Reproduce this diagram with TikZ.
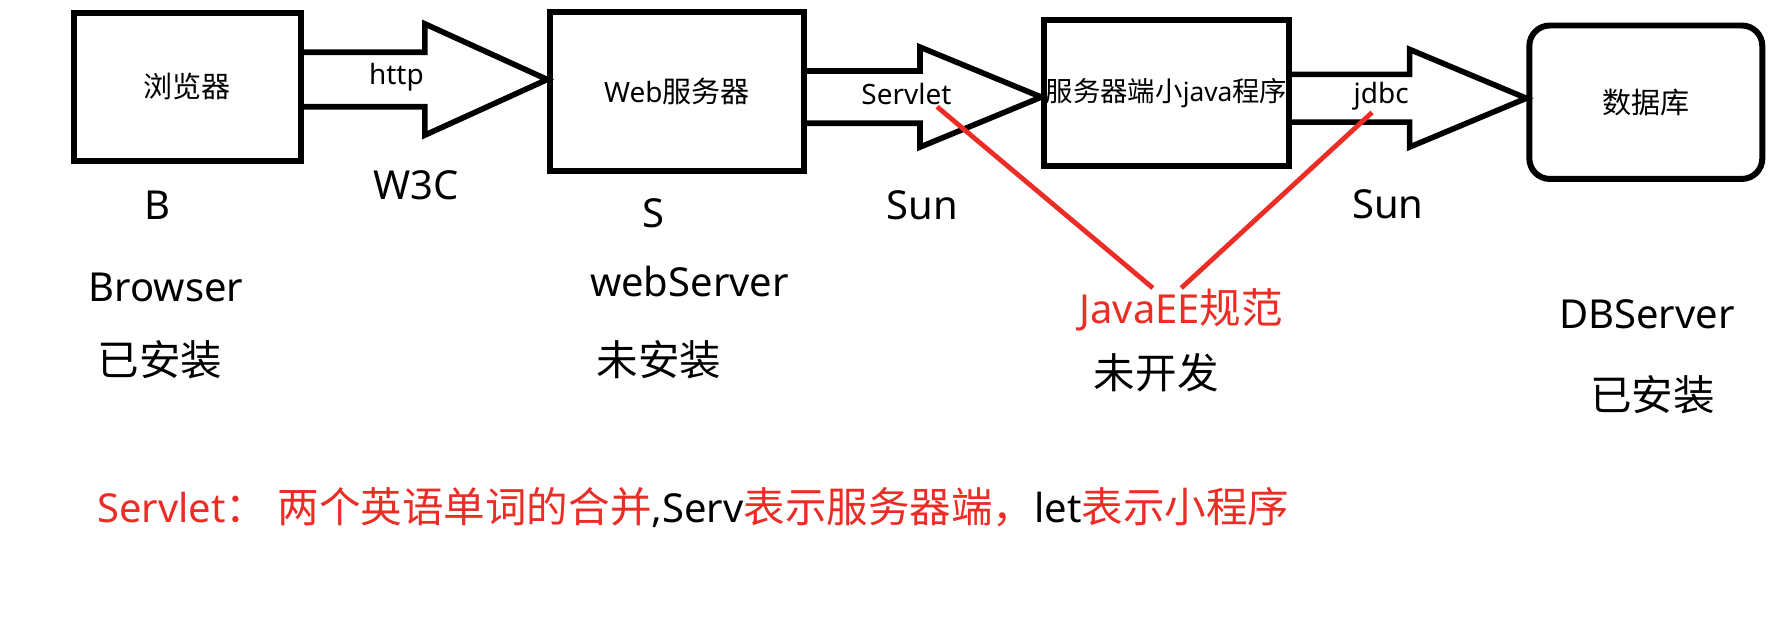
\documentclass[tikz,border=0pt]{standalone}
\usepackage{fontspec}
\setmainfont{Noto Sans}
\newfontfamily\cjkfont{Noto Sans CJK SC}[Scale=1.04]
\newcommand{\zh}[1]{{\cjkfont #1}}
\usetikzlibrary{calc}
\definecolor{jred}{RGB}{235,45,38}

\begin{document}
\begin{tikzpicture}[x=0.01cm, y=-0.01cm]
	\tikzstyle{Box}   = [draw, line width=1.5pt, minimum width=2cm, minimum height=1.3cm, inner sep=0pt, font=\fontsize{7}{8}\selectfont]
	\tikzstyle{Pipe}  = [line width=1.4pt, line join=miter]
	\tikzstyle{Tag}   = [inner sep=0pt, font=\fontsize{7}{8}\selectfont]
	\tikzstyle{Label} = [inner sep=0pt, font=\fontsize{10}{12}\selectfont]
	\tikzstyle{Spec}  = [jred, line width=1.2pt]

	\fill[white] (0,0) rectangle (1568,561);
	\useasboundingbox (0,0) rectangle (1568,561);

	% the four tiers
	\node (browser) at (165,76.5) [Box] {\zh{浏览器}};
	\node (websrv) at (596,80.5) [Box, minimum width=2.23cm, minimum height=1.4cm] {Web\zh{服务器}};
	\node (prog) at (1027,82) [Box, minimum width=2.15cm, minimum height=1.28cm, font=\fontsize{6.6}{8}\selectfont] {\zh{服务器端小}java\zh{程序}};
	\node (db) at (1449,90) [Box, rounded corners=0.18cm, minimum width=2.05cm, minimum height=1.35cm] {\zh{数据库}};

	% block arrows between the tiers
	\foreach \from/\to/\yc/\xb/\sh/\hh in {browser/websrv/70/374/24/49, websrv/prog/85.5/810/23/44, prog/db/86.5/1241/21/43}
		\draw [Pipe] (\from.east |- 0,\yc-\sh) -- (\xb,\yc-\sh) -- (\xb,\yc-\hh) -- (\to.west |- 0,\yc) -- (\xb,\yc+\hh) -- (\xb,\yc+\sh) -- (\from.east |- 0,\yc+\sh);

	% protocol names
	\foreach \n/\x/\y/\t in {http/349/68/http, srvlt/798/83/Servlet, jdbc/1216/85/jdbc}
		\node (\n) at (\x,\y) [Tag] {\t};

	% captions under the tiers
	\foreach \n/\x/\y/\t in {w3c/366/163/W3C, capB/139/181/B, brname/146/253/Browser, inst1/141/317/\zh{已安装},
			capS/575/188/S, wsname/607/248/webServer, inst2/580/317/\zh{未安装},
			sun1/812/181/Sun, sun2/1222/180/Sun, todo/1018/328/\zh{未开发},
			dbname/1450/277/DBServer, inst3/1455/348/\zh{已安装}}
		\node (\n) at (\x,\y) [Label] {\t};

	\node (javaee) at (1040,273) [Label, jred] {JavaEE\zh{规范}};
	\coordinate (from1) at (825,94);
	\coordinate (from2) at (1208,99);
	\draw [Spec] (from1) -- ([xshift=-0.25cm]javaee.north);
	\draw [Spec] (from2) -- (javaee.north);

	\node (note) at (85,447) [Label, anchor=west] {\textcolor{jred}{Servlet\zh{：}\ \zh{两个英语单词的合并}},Serv\textcolor{jred}{\zh{表示服务器端，}}let\textcolor{jred}{\zh{表示小程序}}};
\end{tikzpicture}
\end{document}
